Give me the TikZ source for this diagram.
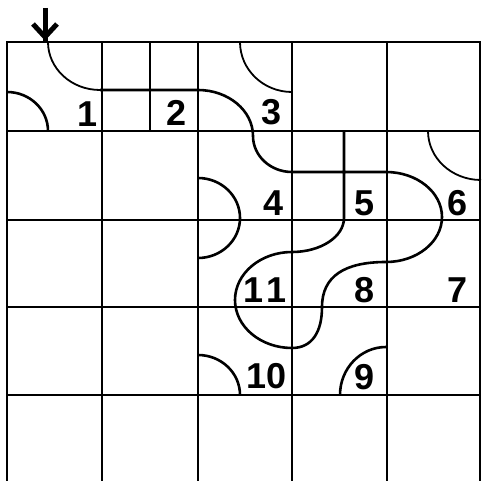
\documentclass[tikz,border=0pt]{standalone}
\usepackage{fontspec}
\setmainfont{Liberation Sans}
\begin{document}
\begin{tikzpicture}[x=1pt,y=-1pt,
  grid/.style={line width=2.6pt,line cap=rect},
  route/.style={line width=2.6pt,line join=round},
  rough/.style={line width=1.8pt},
  num/.style={font=\fontsize{36}{36}\selectfont\bfseries,inner sep=0pt}]
\useasboundingbox (0,0) rectangle (482,481);
% grid
\foreach \x in {7,102,198,292,387,480} \draw[grid] (\x,42) -- (\x,485);
\foreach \y in {42,131,220,307,395} \draw[grid] (7,\y) -- (480,\y);
\draw[grid] (150,42) -- (150,131);
\draw[grid] (292,172) -- (386,172);
% main route
\draw[route] (100,90) -- (198,90)
  arc[start angle=270,end angle=360,x radius=55,y radius=46]
  arc[start angle=180,end angle=90,x radius=39,y radius=36]
  -- (386,172)
  arc[start angle=270,end angle=450,x radius=56,y radius=45]
  .. controls (345,262) and (322,276) .. (322,307)
  .. controls (322,332) and (312,348) .. (292,348)
  arc[start angle=90,end angle=270,x radius=57,y radius=48]
  arc[start angle=90,end angle=0,x radius=52,y radius=34]
  -- (344,131);
% other arcs
\draw[route] (198,178) arc[start angle=270,end angle=450,x radius=42,y radius=40];
\draw[route] (7,92) arc[start angle=270,end angle=360,x radius=41,y radius=39];
\draw[route] (386,347) arc[start angle=270,end angle=180,x radius=46,y radius=48];
\draw[route] (198,355) arc[start angle=270,end angle=360,x radius=42,y radius=40];
% rough arcs
\draw[rough] (48,42) arc[start angle=180,end angle=90,x radius=52,y radius=48];
\draw[rough] (240,42) arc[start angle=180,end angle=90,x radius=52,y radius=50];
\draw[rough] (428,131) arc[start angle=180,end angle=90,x radius=53,y radius=49];
% arrow
\coordinate (atop) at (45,8);
\coordinate (atip) at (45,37);
\draw[line width=5pt] (atop) -- ([yshift=-4pt]atip);
\draw[line width=5pt,line join=miter] ([xshift=-12pt,yshift=13pt]atip) -- (atip) -- ([xshift=12pt,yshift=13pt]atip);
% numbers
\node[num] (n1) at (88,114) {1};
\node[num] (n2) at (177,113) {2};
\node[num] (n3) at (272,112) {3};
\node[num] (n4) at (274,203) {4};
\node[num] (n5) at (365,203) {5};
\node[num] (n6) at (458,203) {6};
\node[num] (n7) at (458,290) {7};
\node[num] (n8) at (365,290) {8};
\node[num] (n11) at (265,290) {1\kern3pt 1};
\node[num] (n10) at (267,376) {10};
\node[num] (n9) at (365,377) {9};
\end{tikzpicture}
\end{document}
